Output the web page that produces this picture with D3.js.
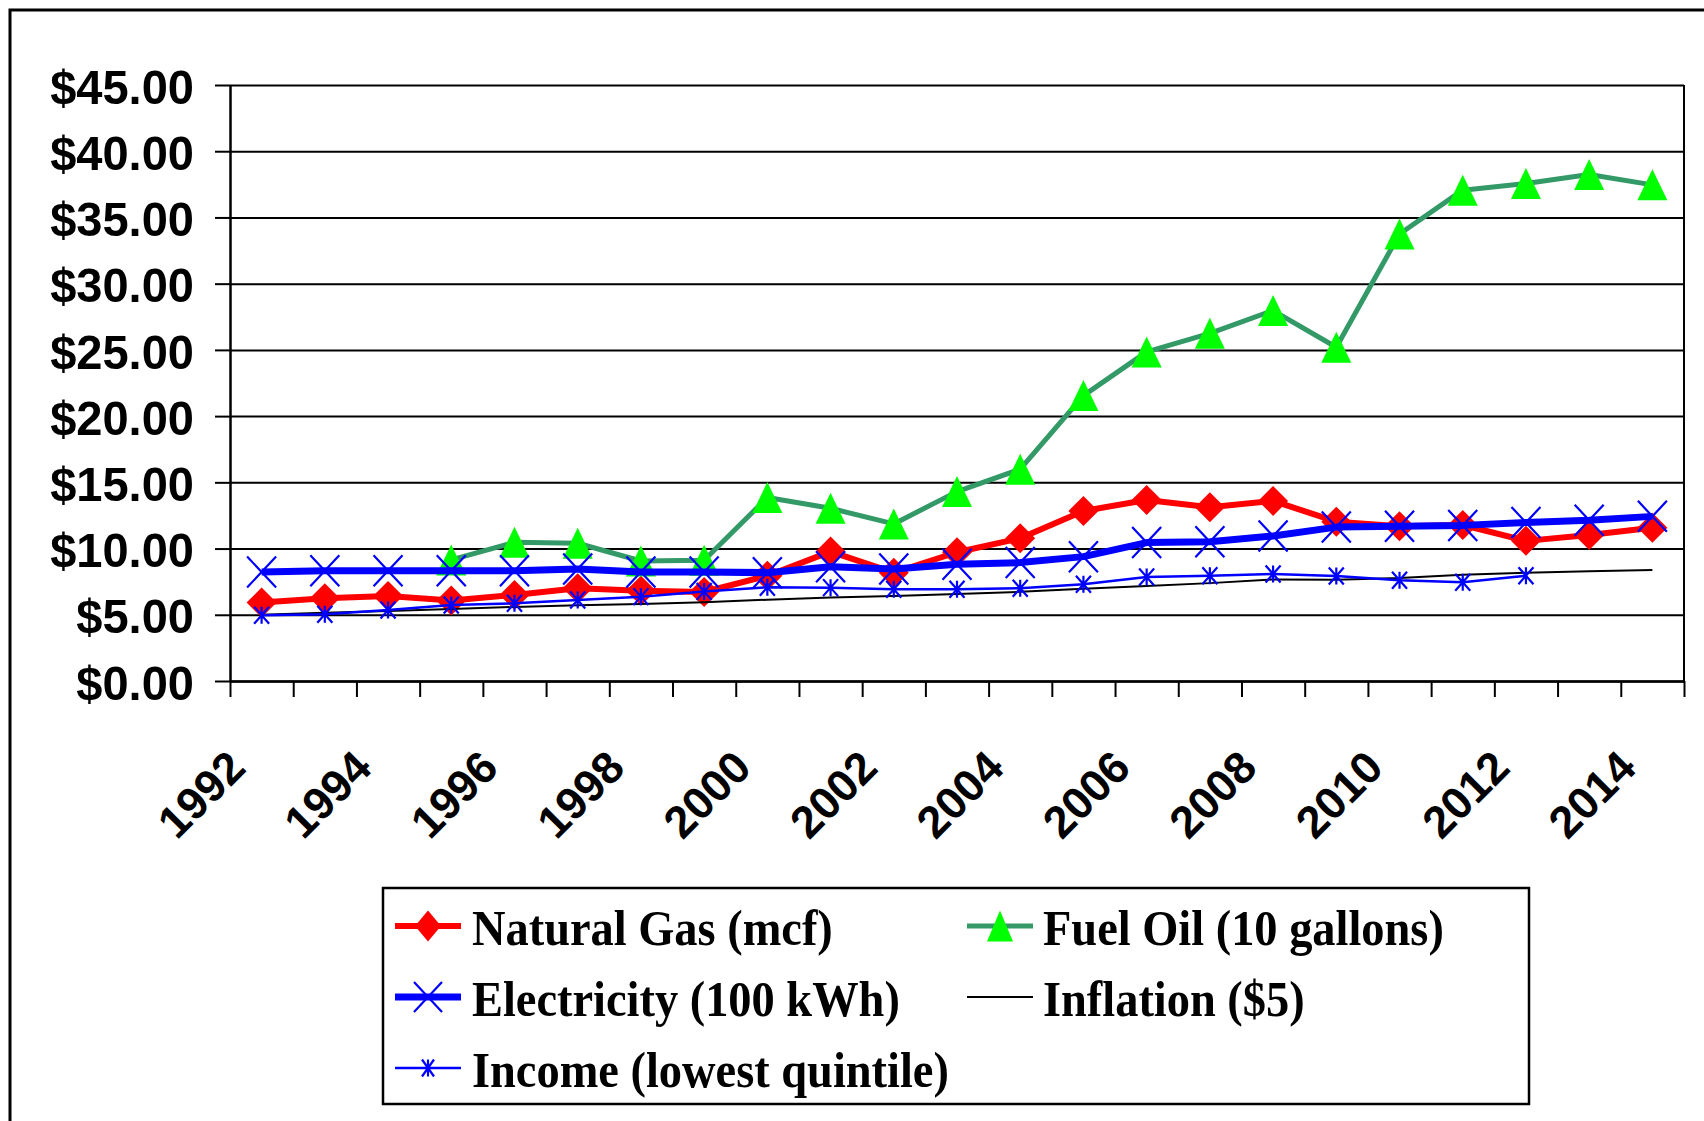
<!DOCTYPE html>
<html>
<head>
<meta charset="utf-8">
<script src="https://cdn.jsdelivr.net/npm/d3@7"></script>
<style>
  body { margin: 0; background: #fff; }
  .axis text { font-family: "Liberation Sans", Arial, sans-serif; font-weight: bold; fill: #000; }
  .legend text { font-family: "Liberation Serif", "Times New Roman", serif; font-weight: bold; fill: #000; }
</style>
</head>
<body>
<svg id="chart" width="1704" height="1121"></svg>
<script>
// categories
const years = [1992, 1993, 1994, 1995, 1996, 1997, 1998, 1999, 2000, 2001, 2002, 2003,
               2004, 2005, 2006, 2007, 2008, 2009, 2010, 2011, 2012, 2013, 2014];
const yTicks = [0, 5, 10, 15, 20, 25, 30, 35, 40, 45];

// series values (dollars)
const naturalGas = [5.92, 6.25, 6.42, 6.07, 6.5, 7.0, 6.82, 6.72, 7.95, 9.77, 8.18, 9.72,
                    10.78, 12.84, 13.67, 13.12, 13.6, 12.03, 11.69, 11.78, 10.58, 11.03, 11.57];
const fuelOil = [null, null, null, 9.14, 10.47, 10.4, 9.06, 9.11, 13.85, 13.04, 11.86, 14.3,
                 15.99, 21.55, 24.85, 26.25, 27.97, 25.2, 33.75, 37.06, 37.57, 38.24, 37.46];
const electricity = [8.23, 8.33, 8.33, 8.33, 8.33, 8.46, 8.23, 8.23, 8.18, 8.63, 8.46, 8.81,
                     8.94, 9.39, 10.45, 10.52, 10.95, 11.62, 11.69, 11.75, 11.97, 12.14, 12.43];
const inflation = [5.0, 5.15, 5.28, 5.43, 5.59, 5.72, 5.81, 5.94, 6.14, 6.31, 6.41, 6.56,
                   6.73, 6.96, 7.18, 7.39, 7.67, 7.64, 7.77, 8.02, 8.18, 8.28, 8.38];
const income = [4.96, 5.04, 5.36, 5.74, 5.87, 6.12, 6.37, 6.75, 7.08, 7.05, 6.92, 6.92,
                7.0, 7.3, 7.85, 7.95, 8.08, 7.93, 7.6, 7.45, 7.95, null, null];

const series = [
  {name: "Natural Gas (mcf)", values: naturalGas, color: "#FF0000", width: 6, marker: "diamond", row: 0, col: 0},
  {name: "Fuel Oil (10 gallons)", values: fuelOil, color: "#339966", width: 5, marker: "triangle", row: 0, col: 1},
  {name: "Electricity (100 kWh)", values: electricity, color: "#0000FF", width: 7, marker: "cross", row: 1, col: 0},
  {name: "Inflation ($5)", values: inflation, color: "#000000", width: 2, marker: null, row: 1, col: 1},
  {name: "Income (lowest quintile)", values: income, color: "#0000FF", width: 2.5, marker: "star", row: 2, col: 0}
];

const svg = d3.select("svg#chart");
const plotLeft = 230, plotRight = 1684, plotTop = 85, plotBottom = 681;

const x = d3.scaleBand().domain(years).range([plotLeft, plotRight]);
const xb = d3.scaleLinear().domain([0, years.length]).range([plotLeft, plotRight]);
const y = d3.scaleLinear().domain([0, 45]).range([plotBottom, plotTop]);
const cx = d => x(d) + x.bandwidth() / 2;

// outer frame (runs off the right/bottom edge like the original)
svg.append("rect")
  .attr("x", 10).attr("y", 10).attr("width", 1760).attr("height", 1200)
  .attr("fill", "none").attr("stroke", "#000").attr("stroke-width", 3);

// gridlines
svg.append("g")
  .attr("transform", `translate(${plotLeft},0)`)
  .call(d3.axisLeft(y).tickValues(yTicks).tickSize(-(plotRight - plotLeft)).tickFormat(""))
  .call(g => g.select(".domain").remove())
  .selectAll("line").attr("stroke", "#000").attr("stroke-width", 2);

// right border of plot area
svg.append("line")
  .attr("x1", plotRight).attr("x2", plotRight).attr("y1", plotTop).attr("y2", plotBottom)
  .attr("stroke", "#000").attr("stroke-width", 2);

// y axis
const yAxis = svg.append("g").attr("class", "axis")
  .attr("transform", `translate(${plotLeft},0)`)
  .call(d3.axisLeft(y).tickValues(yTicks).tickSize(15).tickSizeOuter(0).tickPadding(24)
    .tickFormat(d => "$" + d.toFixed(2)));
yAxis.select(".domain").attr("stroke", "#000").attr("stroke-width", 2.5);
yAxis.selectAll("line").attr("stroke", "#000").attr("stroke-width", 2);
yAxis.selectAll("text")
  .attr("font-size", 49)
  .attr("x", 0)
  .attr("dy", "0.37em")
  .attr("transform", "translate(-36,0) scale(0.96,1)");

// x axis, ticks between categories
const xAxis = svg.append("g").attr("class", "axis")
  .attr("transform", `translate(0,${plotBottom})`)
  .call(d3.axisBottom(xb).tickValues(d3.range(0, years.length + 1)).tickSize(16).tickSizeOuter(0).tickFormat(""));
xAxis.select(".domain").attr("stroke", "#000").attr("stroke-width", 2.5);
xAxis.selectAll("line").attr("stroke", "#000").attr("stroke-width", 2);

svg.append("g").attr("class", "axis")
  .selectAll("text")
  .data(years.filter((d, i) => i % 2 === 0))
  .join("text")
  .attr("transform", d => `translate(${cx(d) - 14},${plotBottom + 89}) rotate(-45)`)
  .attr("text-anchor", "end")
  .attr("font-size", 45)
  .text(d => d);

// marker shapes
function markerPath(type, w, h) {
  if (type === "diamond") return `M0,${-h/2}L${w/2},0L0,${h/2}L${-w/2},0Z`;
  if (type === "triangle") return `M0,${-h/2}L${w/2},${h/2}L${-w/2},${h/2}Z`;
  if (type === "cross") return `M${-w/2},${-h/2}L${w/2},${h/2}M${w/2},${-h/2}L${-w/2},${h/2}`;
  if (type === "star") return `M${-w/2},${-h/2}L${w/2},${h/2}M${w/2},${-h/2}L${-w/2},${h/2}M0,${-h/2}L0,${h/2}`;
  return "";
}
const markerSize = {diamond: [30, 30], triangle: [30, 31], cross: [29, 31], star: [15, 17]};
const legendMarkerSize = {diamond: [26, 31], triangle: [26, 31], cross: [28, 30], star: [12, 17]};

function styleMarker(sel, s) {
  if (s.marker === "diamond") sel.attr("fill", "#FF0000").attr("stroke", "none");
  else if (s.marker === "triangle") sel.attr("fill", "#00FF00").attr("stroke", "none");
  else sel.attr("fill", "none").attr("stroke", "#0000FF").attr("stroke-width", 2.2);
}

const line = d3.line()
  .defined(d => d.v != null)
  .x(d => cx(d.year))
  .y(d => y(d.v));

series.forEach(s => {
  const pts = years.map((yr, i) => ({year: yr, v: s.values[i]}));
  const g = svg.append("g");
  g.append("path")
    .attr("d", line(pts))
    .attr("fill", "none")
    .attr("stroke", s.color)
    .attr("stroke-width", s.width)
    .attr("stroke-linejoin", "round");
  if (s.marker) {
    const [w, h] = markerSize[s.marker];
    g.selectAll("path.mk")
      .data(pts.filter(d => d.v != null))
      .join("path")
      .attr("class", "mk")
      .attr("transform", d => `translate(${cx(d.year)},${y(d.v)})`)
      .attr("d", markerPath(s.marker, w, h))
      .call(styleMarker, s);
  }
});

// legend
const legend = svg.append("g").attr("class", "legend");
legend.append("rect")
  .attr("x", 383).attr("y", 888).attr("width", 1146).attr("height", 216)
  .attr("fill", "none").attr("stroke", "#000").attr("stroke-width", 2.5);

const colSample = [395, 967];
const colText = [472, 1043];
const rowY = [926, 997, 1068];

series.forEach(s => {
  const x0 = colSample[s.col], yy = rowY[s.row];
  const item = legend.append("g");
  item.append("line")
    .attr("x1", x0).attr("x2", x0 + 66).attr("y1", yy).attr("y2", yy)
    .attr("stroke", s.color).attr("stroke-width", s.width);
  if (s.marker) {
    const [w, h] = legendMarkerSize[s.marker];
    item.append("path")
      .attr("transform", `translate(${x0 + 33},${yy})`)
      .attr("d", markerPath(s.marker, w, h))
      .call(styleMarker, s);
  }
  item.append("text")
    .attr("transform", `translate(${colText[s.col]},${yy + 19}) scale(0.91,1)`)
    .attr("font-size", 51)
    .text(s.name);
});
</script>
</body>
</html>
